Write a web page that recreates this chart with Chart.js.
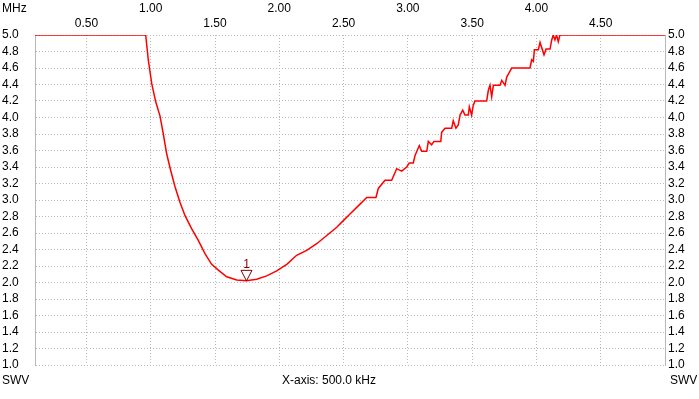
<!DOCTYPE html>
<html>
<head>
<meta charset="utf-8">
<script src="https://cdn.jsdelivr.net/npm/chart.js@4"></script>
<style>
  html, body { margin: 0; padding: 0; background: #fff; }
  #wrap { width: 699px; height: 399px; }
</style>
</head>
<body>
<div id="wrap"><canvas id="chartSwr" width="699" height="399"></canvas></div>
<script>
// frequency in MHz, SWR read from the sweep
const freqMhz = [0.1, 0.961, 0.981, 1.008, 1.039, 1.072, 1.098, 1.124, 1.155, 1.189, 1.228, 1.267, 1.319, 1.370, 1.422, 1.474, 1.526, 1.591, 1.669, 1.745, 1.824, 1.902, 1.980, 2.058, 2.135, 2.213, 2.291, 2.369, 2.447, 2.498, 2.550, 2.628, 2.680, 2.752, 2.770, 2.822, 2.874, 2.913, 2.952, 2.991, 3.011, 3.042, 3.056, 3.089, 3.108, 3.147, 3.159, 3.185, 3.203, 3.256, 3.263, 3.289, 3.341, 3.353, 3.374, 3.392, 3.406, 3.427, 3.444, 3.470, 3.478, 3.496, 3.509, 3.522, 3.613, 3.626, 3.639, 3.652, 3.665, 3.717, 3.730, 3.756, 3.769, 3.808, 3.950, 3.963, 3.976, 3.984, 4.015, 4.028, 4.059, 4.075, 4.106, 4.119, 4.131, 4.144, 4.157, 4.170, 4.183, 5.0];
const swr = [5.0, 5.0, 4.70, 4.41, 4.19, 4.02, 3.80, 3.56, 3.36, 3.16, 2.97, 2.81, 2.65, 2.51, 2.35, 2.22, 2.15, 2.07, 2.03, 2.02, 2.04, 2.08, 2.14, 2.22, 2.33, 2.39, 2.47, 2.57, 2.67, 2.75, 2.83, 2.95, 3.03, 3.03, 3.14, 3.24, 3.24, 3.38, 3.35, 3.40, 3.45, 3.45, 3.54, 3.66, 3.59, 3.59, 3.71, 3.67, 3.71, 3.71, 3.82, 3.87, 3.87, 3.96, 3.87, 3.91, 4.03, 4.09, 4.03, 4.03, 4.13, 4.03, 4.15, 4.20, 4.20, 4.33, 4.39, 4.25, 4.39, 4.39, 4.45, 4.39, 4.49, 4.60, 4.60, 4.70, 4.68, 4.82, 4.82, 4.91, 4.76, 4.83, 4.83, 4.94, 5.0, 4.94, 5.0, 4.92, 5.0, 5.0];

const ticksUpper = [1.0, 2.0, 3.0, 4.0];
const ticksLower = [0.5, 1.5, 2.5, 3.5, 4.5];
const marker = { label: '1', freq: 1.745, swr: 2.02 };

const gridColor = '#b8b8b8';
const textFont = { family: 'Liberation Sans', size: 12 };

let points = freqMhz.map((f, i) => ({ x: f, y: swr[i] }));

// texts and the marker drawn on top
let extras = {
    id: 'extras',
    afterDraw(chart) {
        let ctx = chart.ctx;
        ctx.save();
        ctx.font = '12px "Liberation Sans"';
        ctx.fillStyle = '#000';
        ctx.textBaseline = 'middle';
        ctx.textAlign = 'left';
        ctx.fillText('MHz', 2, 9);
        ctx.fillText('SWV', 2, 381);
        ctx.fillText('X-axis: 500.0 kHz', 282, 381);
        ctx.fillText('SWV', 670, 381);

        let mx = chart.scales.x.getPixelForValue(marker.freq);
        let my = chart.scales.y.getPixelForValue(marker.swr);
        ctx.strokeStyle = '#800000';
        ctx.lineWidth = 1;
        ctx.beginPath();
        ctx.moveTo(mx - 5.5, my - 10.5);
        ctx.lineTo(mx + 5.5, my - 10.5);
        ctx.lineTo(mx, my);
        ctx.closePath();
        ctx.stroke();
        ctx.fillStyle = '#800000';
        ctx.textAlign = 'center';
        ctx.fillText(marker.label, mx, my - 16);
        ctx.restore();
    }
};

let contextSwr = document.querySelector('#chartSwr').getContext('2d');

let config = {
    type: 'line',
    data: {
        datasets: [{
            data: points,
            borderColor: '#ff0000',
            borderWidth: 1.5,
            pointRadius: 0,
            tension: 0
        }]
    },
    options: {
        responsive: false,
        animation: false,
        events: [],
        layout: { padding: { left: 2, right: 0, top: 0, bottom: 34 } },
        plugins: {
            legend: { display: false },
            tooltip: { enabled: false }
        },
        scales: {
            x: {
                type: 'linear',
                position: 'top',
                weight: 1,
                min: 0.1,
                max: 5.0,
                afterBuildTicks: (scale) => { scale.ticks = ticksUpper.map(v => ({ value: v })); },
                afterFit: (scale) => { scale.height = 16; },
                grid: { color: gridColor, drawTicks: false },
                border: { display: false },
                ticks: {
                    font: textFont,
                    color: '#000',
                    padding: 0,
                    maxRotation: 0,
                    autoSkip: false,
                    callback: (v) => v.toFixed(2)
                }
            },
            x2: {
                type: 'linear',
                position: 'top',
                weight: 0,
                min: 0.1,
                max: 5.0,
                afterBuildTicks: (scale) => { scale.ticks = ticksLower.map(v => ({ value: v })); },
                afterFit: (scale) => { scale.height = 19; },
                grid: { color: gridColor, drawTicks: false },
                border: { display: false },
                ticks: {
                    font: textFont,
                    color: '#000',
                    padding: 4,
                    maxRotation: 0,
                    autoSkip: false,
                    callback: (v) => v.toFixed(2)
                }
            },
            y: {
                position: 'left',
                min: 1.0,
                max: 5.0,
                afterFit: (scale) => { scale.width = 33; },
                grid: { color: gridColor, drawTicks: false },
                border: { color: gridColor },
                ticks: {
                    stepSize: 0.2,
                    autoSkip: false,
                    crossAlign: 'far',
                    font: textFont,
                    color: '#000',
                    padding: 0,
                    callback: (v) => v.toFixed(1)
                }
            },
            y2: {
                position: 'right',
                min: 1.0,
                max: 5.0,
                afterFit: (scale) => { scale.width = 34; },
                grid: { display: false, drawTicks: false },
                border: { color: gridColor },
                ticks: {
                    stepSize: 0.2,
                    autoSkip: false,
                    font: textFont,
                    color: '#000',
                    padding: 3,
                    callback: (v) => v.toFixed(1)
                }
            }
        }
    },
    plugins: [extras]
};

// dotted grid lines
for (let id of ['x', 'x2', 'y', 'y2']) {
    config.options.scales[id].border.dash = [1, 2];
}

let chartSwr = new Chart(contextSwr, config);
</script>
</body>
</html>
